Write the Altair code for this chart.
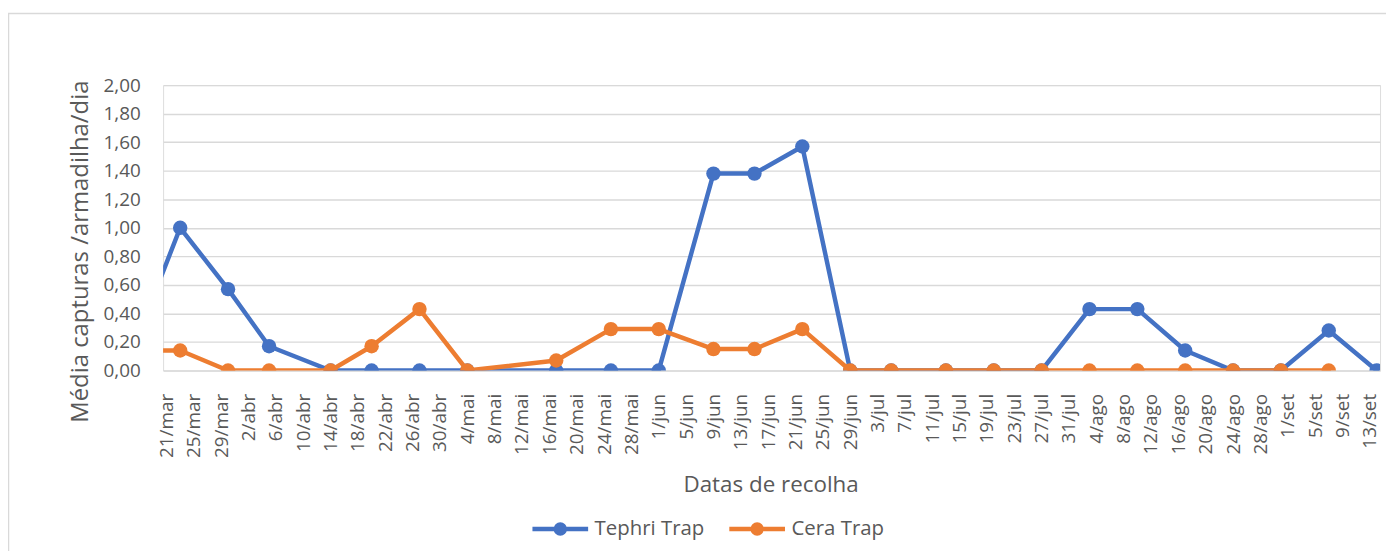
import datetime as dt
import altair as alt
import pandas as pd

# ---- data ----
dates = ["2021-03-16", "2021-03-23", "2021-03-30", "2021-04-05", "2021-04-14",
         "2021-04-20", "2021-04-27", "2021-05-04", "2021-05-17", "2021-05-25",
         "2021-06-01", "2021-06-09", "2021-06-15", "2021-06-22", "2021-06-29",
         "2021-07-05", "2021-07-13", "2021-07-20", "2021-07-27", "2021-08-03",
         "2021-08-10", "2021-08-17", "2021-08-24", "2021-08-31", "2021-09-07",
         "2021-09-14"]
tephri = [0.14, 1.00, 0.57, 0.17, 0.00, 0.00, 0.00, 0.00, 0.00, 0.00,
          0.00, 1.38, 1.38, 1.57, 0.00, 0.00, 0.00, 0.00, 0.00, 0.43,
          0.43, 0.14, 0.00, 0.00, 0.28, 0.00]
cera = [0.14, 0.14, 0.00, 0.00, 0.00, 0.17, 0.43, 0.00, 0.07, 0.29,
        0.29, 0.15, 0.15, 0.29, 0.00, 0.00, 0.00, 0.00, 0.00, 0.00,
        0.00, 0.00, 0.00, 0.00, 0.00, None]
series = ["Tephri Trap", "Cera Trap"]
colors = ["#4472C4", "#ED7D31"]
month_names = ["jan", "fev", "mar", "abr", "mai", "jun", "jul", "ago", "set", "out", "nov", "dez"]
y_ticks = [0.0, 0.2, 0.4, 0.6, 0.8, 1.0, 1.2, 1.4, 1.6, 1.8, 2.0]
x_tick_start = "2021-03-21"
x_tick_end = "2021-09-13"
x_tick_step_days = 4

rows = []
for name, vals in zip(series, [tephri, cera]):
    for d, v in zip(dates, vals):
        if v is not None:
            rows.append({"data": d, "serie": name, "valor": v})
df = pd.DataFrame(rows)


def ms(s, hours=0):
    t = dt.datetime.fromisoformat(s).replace(tzinfo=dt.timezone.utc) + dt.timedelta(hours=hours)
    return int(t.timestamp() * 1000)


tick_vals = []
cur = dt.date.fromisoformat(x_tick_start)
end = dt.date.fromisoformat(x_tick_end)
while cur <= end:
    tick_vals.append(ms(cur.isoformat()))
    cur += dt.timedelta(days=x_tick_step_days)

x_domain = [ms("2021-03-20", 12), ms("2021-09-14", 12)]
month_expr = "[" + ",".join("'%s'" % m for m in month_names) + "]"
x_label_expr = "utcdate(datum.value) + '/' + " + month_expr + "[utcmonth(datum.value)]"

FONT = "Open Sans"
GREY = "#595959"

legend_path = ("M-1,0L1,0 "
               "M-0.08,0A0.08,0.08 0 1,1 0.08,0A0.08,0.08 0 1,1 -0.08,0 "
               "M-0.16,0A0.16,0.16 0 1,1 0.16,0A0.16,0.16 0 1,1 -0.16,0")

color_enc = alt.Color(
    "serie:N",
    scale=alt.Scale(domain=series, range=colors),
    legend=alt.Legend(
        title=None, orient="none", direction="horizontal",
        legendX=369, legendY=416,
        symbolType=legend_path, symbolSize=3136, symbolStrokeWidth=4.5,
        labelFont=FONT, labelFontSize=20.5, labelColor=GREY,
        labelOffset=4, columnPadding=15, padding=0,
    ),
)

x_enc = alt.X(
    "data:T",
    scale=alt.Scale(type="utc", domain=x_domain),
    axis=alt.Axis(
        title="Datas de recolha", values=tick_vals, labelExpr=x_label_expr,
        labelAngle=-90, labelAlign="right", labelBaseline="middle",
        labelPadding=23, labelFont=FONT, labelFontSize=19, labelColor=GREY,
        labelOverlap=False, labelBound=False, labelFlush=False,
        ticks=False, domain=False, grid=False,
        titleFont=FONT, titleFontSize=22.5, titleFontWeight="normal", titleColor=GREY,
        titleX=611, titleY=122, titleAnchor=None, titleBaseline="alphabetic", titleAlign="center",
    ),
)
y_enc = alt.Y(
    "valor:Q",
    scale=alt.Scale(domain=[0, 2], nice=False),
    axis=alt.Axis(
        title="Média capturas /armadilha/dia", values=y_ticks,
        labelExpr="replace(format(datum.value, '.2f'), '.', ',')",
        labelPadding=23, labelFont=FONT, labelFontSize=19, labelColor=GREY,
        ticks=False, domain=False, grid=True, gridColor="#d9d9d9", gridWidth=1.4,
        titleFont=FONT, titleFontSize=24, titleFontWeight="normal", titleColor=GREY,
        titleAngle=-90, titleX=-76, titleY=167, titleBaseline="alphabetic", titleAlign="center",
    ),
)

base = alt.Chart(df).mark_line(
    clip=True, strokeWidth=4.5, strokeJoin="round", strokeCap="round",
    point=alt.OverlayMarkDef(filled=True, size=210, opacity=1),
).encode(x=x_enc, y=y_enc, color=color_enc)

lines = [base.transform_filter(alt.datum.serie == s) for s in series]

frame = alt.Chart(pd.DataFrame({"k": [0]})).mark_rect(
    fill=None, stroke="#d9d9d9", strokeWidth=1.5
).encode(
    x=alt.value(-155.5), x2=alt.value(1260), y=alt.value(-72), y2=alt.value(600)
)

chart = alt.layer(frame, *lines).properties(
    width=1224, height=287,
    autosize=alt.AutoSizeParams(type="none"),
    padding={"left": 156, "top": 76, "right": 6, "bottom": 180},
).configure_view(stroke=None).configure(font=FONT)

chart.save("out.html", embed_options={"renderer": "svg", "actions": False})
